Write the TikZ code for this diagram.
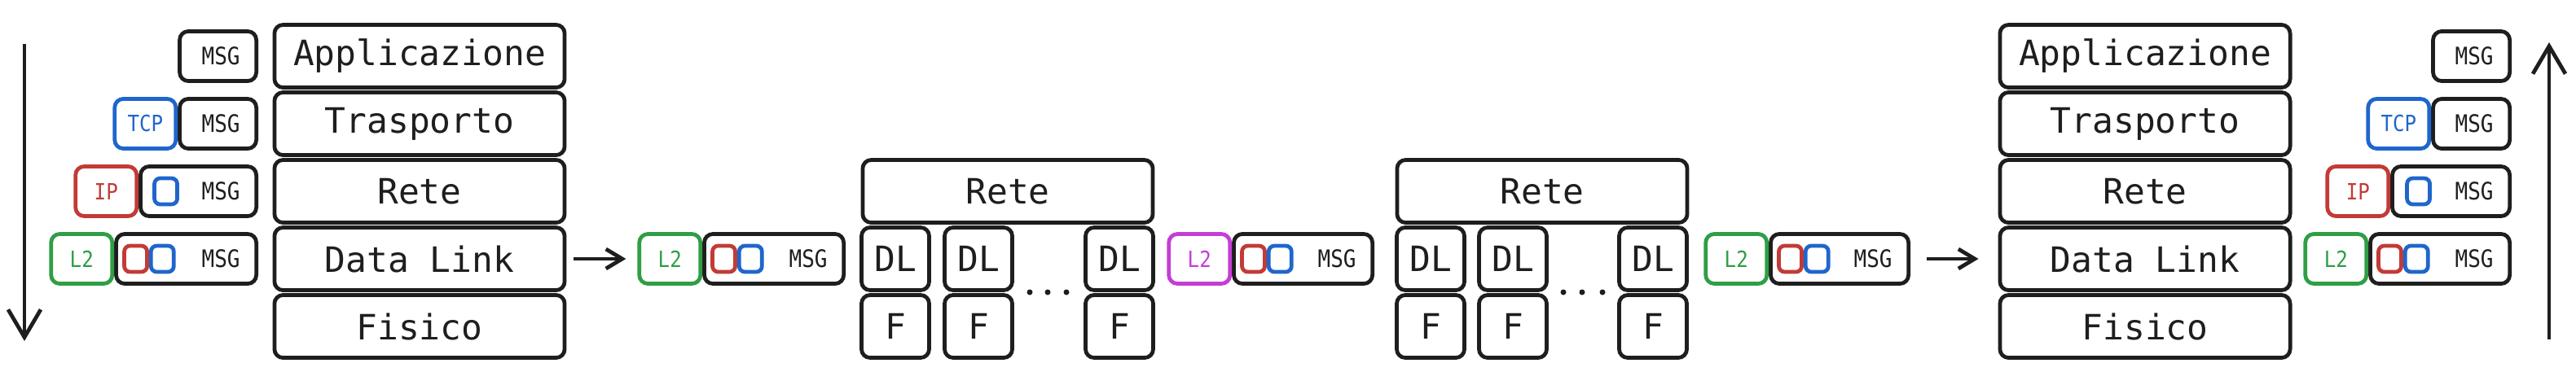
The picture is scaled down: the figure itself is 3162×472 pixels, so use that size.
\documentclass[tikz,border=0pt]{standalone}
\usepackage{fontspec}
\setmonofont{DejaVu Sans Mono}
\newfontfamily\pktmono[FakeStretch=0.88]{DejaVu Sans Mono}
\usepackage{tikz}
\usetikzlibrary{arrows.meta,positioning}
\definecolor{ink}{HTML}{1E1E1E}
\definecolor{tcpblue}{HTML}{1F66CC}
\definecolor{ipred}{HTML}{C23B36}
\definecolor{lgreen}{HTML}{2F9E44}
\definecolor{lviolet}{HTML}{C43ED6}

\begin{document}
\begin{tikzpicture}[x=0.01cm,y=-0.01cm,line width=1.35pt,draw=ink,
  >={Straight Barb[length=0.2cm,width=0.24cm]},
  tall/.style={-{Straight Barb[length=0.34cm,width=0.4cm]}},
  layer/.style={draw=ink,text=ink,rounded corners=3pt,minimum width=3.56cm,minimum height=0.77cm,inner sep=0pt,font=\ttfamily\fontsize{12.2}{14}\selectfont},
  dl/.style={layer,minimum width=0.83cm},
  hdr/.style={draw=#1,text=#1,rounded corners=3pt,minimum width=0.75cm,minimum height=0.61cm,inner sep=0pt,font=\pktmono\fontsize{7.8}{9}\selectfont},
  msg/.style={draw=ink,text=ink,rounded corners=3pt,minimum height=0.61cm,text width=#1,align=right,inner xsep=0.2cm,inner ysep=0pt,font=\pktmono\fontsize{8.4}{10}\selectfont},
  sq/.style={draw=#1,rounded corners=2pt,minimum width=0.28cm,minimum height=0.32cm,inner sep=0pt}]
\useasboundingbox (0,0) rectangle (3162,472);
\coordinate (dtop) at (30,54);
\coordinate (dbot) at (30,419);
\draw[tall] (dtop) -- (dbot);
\node[msg=0.54cm,anchor=east] (lm1) at (317,69) {MSG};
\node[msg=0.54cm,anchor=east] (lm2) at (317,152) {MSG};
\node[hdr=tcpblue,left=0pt of lm2] (lh2) {TCP};
\node[msg=1.02cm,anchor=east] (lm3) at (317,235) {MSG};
\node[hdr=ipred,left=0pt of lm3] (lh3) {IP};
\node[sq=tcpblue,right=0.17cm of lm3.west] (lb3) {};
\node[msg=1.32cm,anchor=east] (lm4) at (317,318) {MSG};
\node[hdr=lgreen,left=0pt of lm4] (lh4) {L2};
\node[sq=ipred,right=0.1cm of lm4.west] (lr4) {};
\node[sq=tcpblue,right=0pt of lr4] (lb4) {};
\node[layer] (la) at (515,69) {Applicazione};
\node[layer] (lt) at (515,152) {Trasporto};
\node[layer] (lr) at (515,235) {Rete};
\node[layer] (ld) at (515,318) {Data Link};
\node[layer] (lf) at (515,401) {Fisico};
\node[msg=1.31cm,anchor=east] (pam) at (1038,318) {MSG};
\node[hdr=lgreen,left=0pt of pam] (pah) {L2};
\node[sq=ipred,right=0.1cm of pam.west] (par) {};
\node[sq=tcpblue,right=0pt of par] (pab) {};
\draw[->,shorten <=0.09cm,shorten >=0.14cm] (ld) -- (pah);
\node[layer] (r1n) at (1237,235) {Rete};
\node[dl] (r1d1) at (1099,318) {DL};
\node[dl] (r1d2) at (1201,318) {DL};
\node[dl] (r1d3) at (1374,318) {DL};
\node[dl] (r1f1) at (1099,401) {F};
\node[dl] (r1f2) at (1201,401) {F};
\node[dl] (r1f3) at (1374,401) {F};
\fill[ink] (1264,359) circle[radius=0.035cm] (1286,359) circle[radius=0.035cm] (1309,359) circle[radius=0.035cm];
\node[msg=1.30cm,anchor=east] (pbm) at (1687,318) {MSG};
\node[hdr=lviolet,left=0pt of pbm] (pbh) {L2};
\node[sq=ipred,right=0.1cm of pbm.west] (pbr) {};
\node[sq=tcpblue,right=0pt of pbr] (pbb) {};
\node[layer] (r2n) at (1893,235) {Rete};
\node[dl] (r2d1) at (1756,318) {DL};
\node[dl] (r2d2) at (1857,318) {DL};
\node[dl] (r2d3) at (2029,318) {DL};
\node[dl] (r2f1) at (1756,401) {F};
\node[dl] (r2f2) at (1857,401) {F};
\node[dl] (r2f3) at (2029,401) {F};
\fill[ink] (1919,359) circle[radius=0.035cm] (1942,359) circle[radius=0.035cm] (1967,359) circle[radius=0.035cm];
\node[msg=1.29cm,anchor=east] (pcm) at (2345,318) {MSG};
\node[hdr=lgreen,left=0pt of pcm] (pch) {L2};
\node[sq=ipred,right=0.1cm of pcm.west] (pcr) {};
\node[sq=tcpblue,right=0pt of pcr] (pcb) {};
\node[layer] (ra) at (2633,69) {Applicazione};
\node[layer] (rt) at (2633,152) {Trasporto};
\node[layer] (rr) at (2633,235) {Rete};
\node[layer] (rd) at (2633,318) {Data Link};
\node[layer] (rf) at (2633,401) {Fisico};
\draw[->,shorten <=0.2cm,shorten >=0.24cm] (pcm) -- (rd);
\node[msg=0.54cm,anchor=east] (rm1) at (3083,69) {MSG};
\node[msg=0.54cm,anchor=east] (rm2) at (3083,152) {MSG};
\node[hdr=tcpblue,left=0pt of rm2] (rh2) {TCP};
\node[msg=1.04cm,anchor=east] (rm3) at (3083,235) {MSG};
\node[hdr=ipred,left=0pt of rm3] (rh3) {IP};
\node[sq=tcpblue,right=0.18cm of rm3.west] (rb3) {};
\node[msg=1.31cm,anchor=east] (rm4) at (3083,318) {MSG};
\node[hdr=lgreen,left=0pt of rm4] (rh4) {L2};
\node[sq=ipred,right=0.1cm of rm4.west] (rr4) {};
\node[sq=tcpblue,right=0pt of rr4] (rb4) {};
\coordinate (ubot) at (3129,417);
\coordinate (utop) at (3129,52);
\draw[tall] (ubot) -- (utop);
\end{tikzpicture}
\end{document}
